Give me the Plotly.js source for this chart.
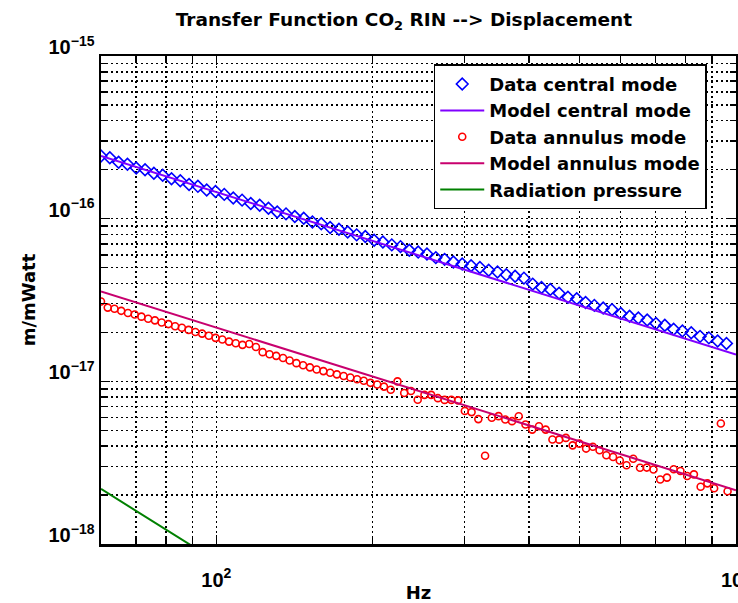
<!DOCTYPE html>
<html>
<head>
<meta charset="utf-8">
<script src="https://cdn.plot.ly/plotly-3.0.1.min.js"></script>
<style>
  html, body { margin: 0; padding: 0; background: #ffffff; }
  #chart { width: 738px; height: 603px; }
</style>
</head>
<body>
<div id="chart"></div>
<script>
// ---- Data ----
// Central mode measurement: frequency [Hz], response in units of 1e-17 m/mW
const centralFreq = [60.0, 62.39, 64.87, 67.46, 70.14, 72.93, 75.84, 78.86, 82.00, 85.26,
  88.64, 92.17, 95.84, 99.66, 103.6, 107.8, 112.1, 116.5, 121.2, 126.0,
  131.0, 136.2, 141.6, 147.3, 153.1, 159.2, 165.6, 172.2, 179.0, 186.2,
  193.5, 201.2, 209.2, 217.6, 226.2, 235.2, 244.6, 254.3, 264.5, 275.0,
  285.9, 297.3, 309.2, 321.5, 334.3, 347.6, 361.4, 375.8, 390.8, 406.3,
  422.4, 439.2, 456.7, 474.9, 493.8, 513.5, 533.9, 555.2, 577.3, 600.3,
  624.0, 648.8, 674.7, 701.5, 729.5, 758.5, 788.7, 820.1, 852.8, 886.7,
  921.9, 958.6];
const centralData_e17 = [24.3, 23.7, 22.2, 21.6, 20.5, 20.0, 19.0, 18.5, 17.6, 17.1,
  16.2, 15.8, 15.0, 14.7, 14.1, 13.4, 13.0, 12.4, 12.1, 11.6,
  11.0, 10.7, 10.3, 10.05, 9.54, 9.30, 8.82, 8.60, 8.27, 7.95,
  7.76, 7.36, 7.18, 6.90, 6.73, 6.39, 6.23, 6.07, 5.76, 5.62,
  5.41, 5.27, 5.14, 5.01, 4.82, 4.70, 4.52, 4.42, 4.31, 3.96,
  3.77, 3.67, 3.48, 3.29, 3.22, 3.05, 2.93, 2.82, 2.76, 2.61,
  2.51, 2.45, 2.38, 2.27, 2.21, 2.09, 2.04, 1.99, 1.89, 1.85,
  1.77, 1.71];

// Annulus mode measurement: frequency [Hz], response in units of 1e-18 m/mW
const annulusFreq = [60.00, 61.82, 63.69, 65.62, 67.61, 69.66, 71.77, 73.95, 76.19, 78.50,
  80.88, 83.33, 85.86, 88.46, 91.14, 93.90, 96.75, 99.68, 102.7, 105.8,
  109.0, 112.3, 115.7, 119.2, 122.8, 126.6, 130.4, 134.4, 138.4, 142.6,
  146.9, 151.4, 156.0, 160.7, 165.6, 170.6, 175.8, 181.1, 186.6, 192.2,
  198.0, 204.0, 210.2, 216.6, 223.2, 229.9, 236.9, 244.1, 251.5, 259.1,
  266.9, 275.0, 283.3, 291.9, 300.8, 309.9, 319.3, 329.0, 338.9, 349.2,
  359.8, 370.7, 381.9, 393.5, 405.4, 417.7, 430.3, 443.4, 456.8, 470.6,
  484.9, 499.6, 514.7, 530.3, 546.4, 563.0, 580.0, 597.6, 615.7, 634.3,
  653.6, 673.4, 693.8, 714.8, 736.5, 758.8, 781.8, 805.4, 829.9, 855.0,
  880.9, 907.6, 935.1, 963.4];
const annulusData_e18 = [30.96, 28.39, 27.96, 27.13, 26.33, 25.74, 24.99, 24.25, 23.71, 23.01,
  22.49, 21.83, 21.33, 20.71, 20.10, 19.65, 19.07, 18.51, 18.09, 17.55,
  17.16, 16.76, 16.97, 16.26, 15.12, 14.68, 14.34, 13.92, 13.42, 12.94,
  12.55, 12.19, 11.83, 11.56, 11.29, 11.04, 10.79, 10.56, 10.31, 10.08,
  9.79, 9.57, 9.28, 8.88, 9.99, 8.48, 8.73, 7.71, 8.26, 8.26,
  7.88, 7.69, 7.69, 7.64, 6.58, 6.47, 5.86, 3.49, 5.97, 6.11,
  5.83, 5.69, 6.10, 5.43, 5.05, 5.30, 5.05, 4.39, 4.38, 4.49,
  4.04, 4.14, 3.86, 3.96, 3.77, 3.51, 3.43, 3.26, 3.05, 3.34,
  2.94, 2.95, 2.87, 2.49, 2.56, 2.88, 2.81, 2.62, 2.68, 2.25,
  2.36, 2.20, 5.51, 2.11];

// Models (straight lines on log-log axes)
const modelFreq = [60, 100, 200, 500, 1000];
const modelCentral_e17 = [24.3, 14.6, 7.30, 2.92, 1.46];
const modelAnnulus_e18 = [35.7, 21.4, 10.7, 4.28, 2.14];

// Radiation pressure, units of 1e-18 m/mW
const radFreq = [60, 80, 100, 1000];
const radPressure_e18 = [2.18, 1.23, 0.785, 0.00785];

// Axis tick labels
const xTickVals = [100, 1000];
const xTickText = ['10<sup>2</sup>', '10<sup>3</sup>'];
const xMinorVals = [70, 80, 90, 200, 300, 400, 500, 600, 700, 800, 900];
const yTickVals = [1e-18, 1e-17, 1e-16, 1e-15];
const yTickText = ['10<sup>\u221218</sup>', '10<sup>\u221217</sup>', '10<sup>\u221216</sup>', '10<sup>\u221215</sup>'];
const yMinorVals = [2e-18, 3e-18, 4e-18, 5e-18, 6e-18, 7e-18, 8e-18, 9e-18,
                    2e-17, 3e-17, 4e-17, 5e-17, 6e-17, 7e-17, 8e-17, 9e-17,
                    2e-16, 3e-16, 4e-16, 5e-16, 6e-16, 7e-16, 8e-16, 9e-16];

// ---- Chart ----
const E17 = 1e-17, E18 = 1e-18;
const FONT = '"Liberation Sans", Arial, Helvetica, sans-serif';
const WIDE = '"DejaVu Sans", "Liberation Sans", Arial, sans-serif';

const traces = [
  {
    name: 'Data central mode', x: centralFreq, y: centralData_e17.map(v => v * E17),
    type: 'scatter', mode: 'markers',
    marker: { symbol: 'diamond-open', size: 9, color: '#0000ff', line: { width: 1.6, color: '#0000ff' } }
  },
  {
    name: 'Model central mode', x: modelFreq, y: modelCentral_e17.map(v => v * E17),
    type: 'scatter', mode: 'lines', line: { color: '#8000ff', width: 2 }
  },
  {
    name: 'Data annulus mode', x: annulusFreq, y: annulusData_e18.map(v => v * E18),
    type: 'scatter', mode: 'markers',
    marker: { symbol: 'circle-open', size: 7, color: '#ff0000', line: { width: 1.6, color: '#ff0000' } }
  },
  {
    name: 'Model annulus mode', x: modelFreq, y: modelAnnulus_e18.map(v => v * E18),
    type: 'scatter', mode: 'lines', line: { color: '#c8006e', width: 2 }
  },
  {
    name: 'Radiation pressure', x: radFreq, y: radPressure_e18.map(v => v * E18),
    type: 'scatter', mode: 'lines', line: { color: '#008000', width: 2 }
  }
];

const gridStyle = { gridcolor: '#000000', gridwidth: 1.5, griddash: '2px,3px' };
const tickFont = { family: FONT, size: 20, color: '#000000', weight: 'bold' };

const layout = {
  width: 738, height: 603,
  margin: { l: 101, r: 2, t: 56, b: 59, pad: 0 },
  paper_bgcolor: '#ffffff', plot_bgcolor: '#ffffff',
  font: { family: FONT, size: 20, color: '#000000', weight: 'bold' },
  title: {
    text: 'Transfer Function CO<sub>2</sub> RIN --> Displacement',
    font: { family: WIDE, size: 18.5, color: '#000000', weight: 'bold' },
    x: 0.477, xref: 'paper', xanchor: 'center',
    y: 0.968, yref: 'container', yanchor: 'middle'
  },
  showlegend: true,
  legend: {
    x: 0.524, y: 0.983, xanchor: 'left', yanchor: 'top',
    bgcolor: '#ffffff', bordercolor: '#000000', borderwidth: 1.5,
    font: { family: WIDE, size: 18, color: '#000000', weight: 'bold' },
    itemwidth: 44,
    tracegroupgap: 0
  },
  xaxis: {
    type: 'log', range: [Math.log10(60), 3],
    tickmode: 'array', tickvals: xTickVals, ticktext: xTickText,
    ticks: 'inside', ticklen: 9, tickwidth: 1.5, tickcolor: '#000000',
    ticklabelstandoff: 16, ticklabeloverflow: 'allow',
    showline: true, linecolor: '#000000', linewidth: 2.5, mirror: 'ticks',
    showgrid: true, ...gridStyle,
    zeroline: false,
    tickfont: tickFont,
    minor: { tickmode: 'array', tickvals: xMinorVals,
             ticks: 'inside', ticklen: 6, tickwidth: 1.5, tickcolor: '#000000',
             showgrid: true, ...gridStyle },
    title: { text: 'Hz', font: { family: WIDE, size: 18, color: '#000000', weight: 'bold' }, standoff: 0 },
    automargin: false
  },
  yaxis: {
    type: 'log', range: [-18, -15],
    tickmode: 'array', tickvals: yTickVals, ticktext: yTickText,
    ticks: 'inside', ticklen: 9, tickwidth: 1.5, tickcolor: '#000000',
    ticklabelshift: -9,
    showline: true, linecolor: '#000000', linewidth: 2.5, mirror: 'ticks',
    showgrid: true, ...gridStyle,
    zeroline: false,
    tickfont: tickFont,
    minor: { tickmode: 'array', tickvals: yMinorVals,
             ticks: 'inside', ticklen: 6, tickwidth: 1.5, tickcolor: '#000000',
             showgrid: true, ...gridStyle },
    title: { text: 'm/mWatt', font: { family: WIDE, size: 18, color: '#000000', weight: 'bold' }, standoff: 8 },
    automargin: false
  }
};

Plotly.newPlot('chart', traces, layout, { displayModeBar: false, staticPlot: true });
</script>
</body>
</html>
